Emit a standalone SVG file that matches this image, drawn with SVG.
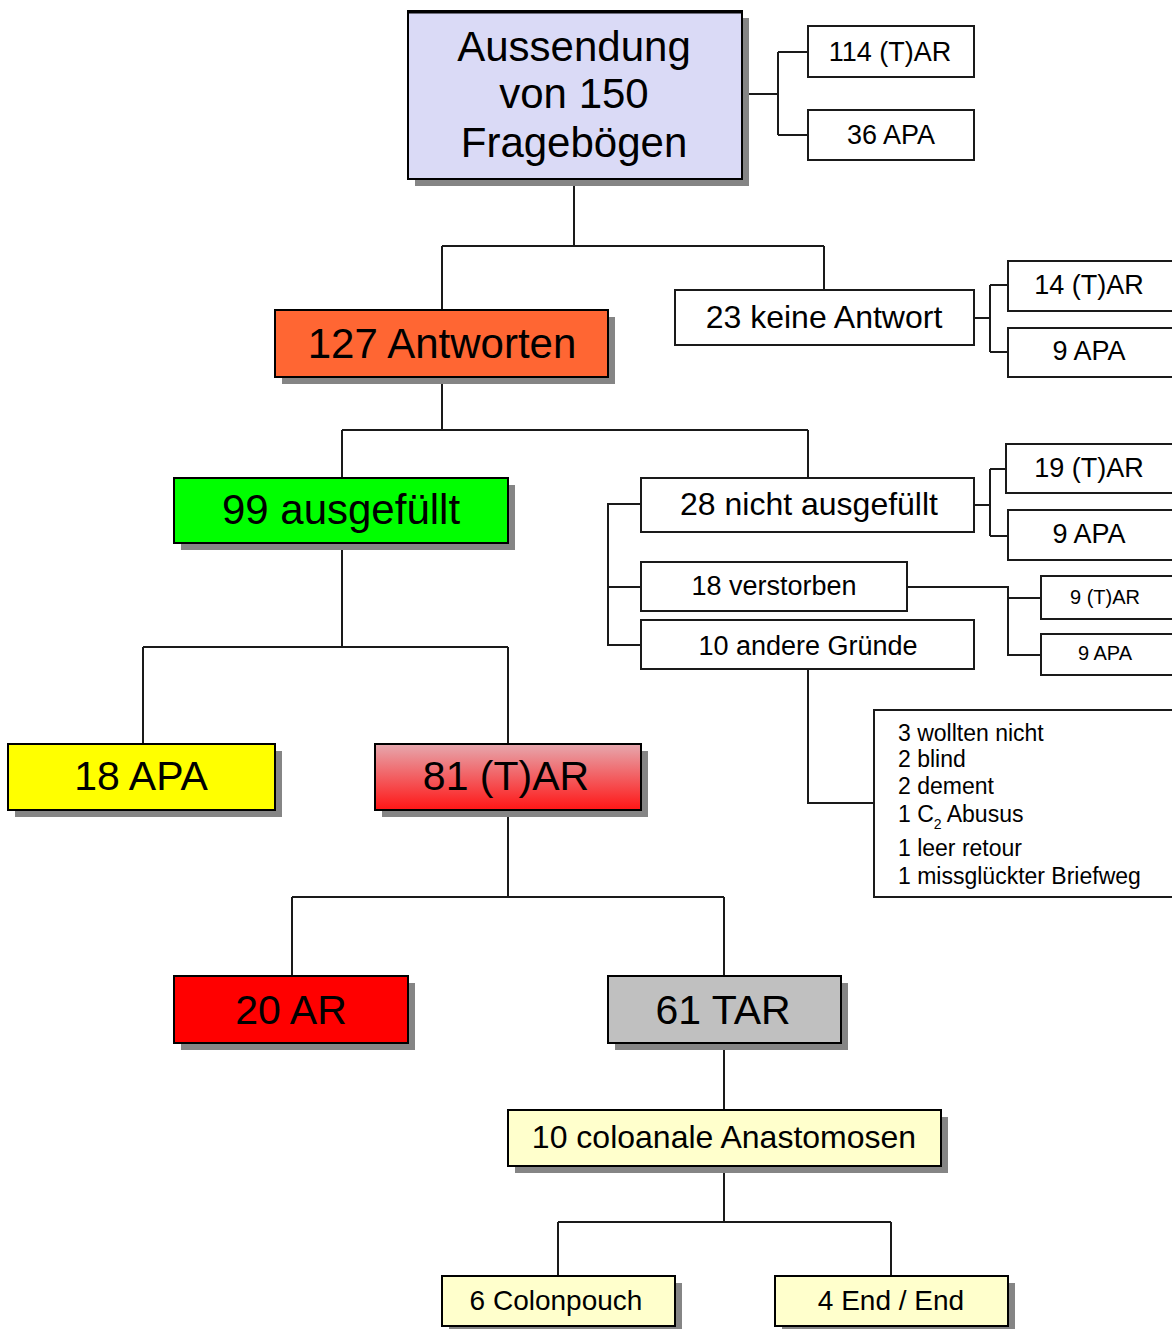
<svg xmlns="http://www.w3.org/2000/svg" width="1172" height="1329" viewBox="0 0 1172 1329">
<style>
text{font-family:"Liberation Sans",Arial,sans-serif;fill:#000;text-anchor:middle}
.box{stroke:#000;stroke-width:2}
.wb{fill:#fff;stroke:#1a1a1a;stroke-width:2}
.sh{fill:#858585}
.c{fill:none;stroke:#1a1a1a;stroke-width:2}
.f42{font-size:42px}.f40{font-size:41px}.f32{font-size:32px}.f27{font-size:27px}.f28{font-size:28px}.f20{font-size:20px}.f23{font-size:23px}
</style>
<defs>
<linearGradient id="g81" x1="0" y1="0" x2="0" y2="1">
<stop offset="0" stop-color="#e6a8ae"/>
<stop offset="1" stop-color="#ff1515"/>
</linearGradient>
</defs>
<rect width="1172" height="1329" fill="#fff"/>
<g id="connectors">
<path class="c" d="M742 94H778M778 52V135M778 52H808M778 135H808"/>
<path class="c" d="M574 179V246M442 246H824M442 246V310M824 246V290"/>
<path class="c" d="M974 318H990M990 285V352M990 285H1008M990 352H1008"/>
<path class="c" d="M442 377V430M342 430H808M342 430V478M808 430V478"/>
<path class="c" d="M974 505H990M990 469V536M990 469H1006M990 536H1008"/>
<path class="c" d="M641 504H608V645H641M608 587H641"/>
<path class="c" d="M907 587H1008V655H1041M1008 598H1041"/>
<path class="c" d="M808 669V803H874"/>
<path class="c" d="M342 543V647M143 647H508M143 647V744M508 647V744"/>
<path class="c" d="M508 810V897M292 897H724M292 897V976M724 897V976"/>
<path class="c" d="M724 1043V1110M724 1166V1222M558 1222H891M558 1222V1276M891 1222V1276"/>
</g>
<g id="n-aussendung">
<rect class="sh" x="415" y="18" width="334" height="168"/>
<rect class="box" x="408" y="11" width="334" height="168" fill="#dadaf6"/>
<path d="M408 12H742" stroke="#000" stroke-width="3"/>
<text class="f42" x="574" y="61">Aussendung</text>
<text class="f42" x="574" y="108">von 150</text>
<text class="f42" x="574" y="157">Fragebögen</text>
</g>
<g id="n-114"><rect class="wb" x="808" y="26" width="166" height="51"/><text class="f27" x="890" y="61">114 (T)AR</text></g>
<g id="n-36"><rect class="wb" x="808" y="110" width="166" height="50"/><text class="f27" x="891" y="144">36 APA</text></g>
<g id="n-127">
<rect class="sh" x="282" y="317" width="333" height="67"/>
<rect class="box" x="275" y="310" width="333" height="67" fill="#ff6633"/>
<text class="f42" x="442" y="358">127 Antworten</text>
</g>
<g id="n-23"><rect class="wb" x="675" y="290" width="299" height="55"/><text class="f32" x="824" y="328">23 keine Antwort</text></g>
<g id="n-14"><rect class="wb" x="1008" y="261" width="170" height="50"/><text class="f27" x="1089" y="294">14 (T)AR</text></g>
<g id="n-9a"><rect class="wb" x="1008" y="328" width="170" height="49"/><text class="f27" x="1089" y="360">9 APA</text></g>
<g id="n-99">
<rect class="sh" x="181" y="485" width="334" height="65"/>
<rect class="box" x="174" y="478" width="334" height="65" fill="#00ff00"/>
<text class="f42" x="341" y="524">99 ausgefüllt</text>
</g>
<g id="n-28"><rect class="wb" x="641" y="478" width="333" height="54"/><text class="f32" x="809" y="515">28 nicht ausgefüllt</text></g>
<g id="n-19"><rect class="wb" x="1006" y="444" width="172" height="49"/><text class="f27" x="1089" y="477">19 (T)AR</text></g>
<g id="n-9b"><rect class="wb" x="1008" y="510" width="170" height="50"/><text class="f27" x="1089" y="543">9 APA</text></g>
<g id="n-18v"><rect class="wb" x="641" y="562" width="266" height="49"/><text class="f27" x="774" y="595">18 verstorben</text></g>
<g id="n-10a"><rect class="wb" x="641" y="620" width="333" height="49"/><text class="f27" x="808" y="655">10 andere Gründe</text></g>
<g id="n-9c"><rect class="wb" x="1041" y="576" width="137" height="43"/><text class="f20" x="1105" y="604">9 (T)AR</text></g>
<g id="n-9d"><rect class="wb" x="1041" y="634" width="137" height="41"/><text class="f20" x="1105" y="660">9 APA</text></g>
<g id="n-gruende">
<rect class="wb" x="874" y="710" width="304" height="187"/>
<text class="f23" x="898" y="741" style="text-anchor:start">3 wollten nicht</text>
<text class="f23" x="898" y="767" style="text-anchor:start">2 blind</text>
<text class="f23" x="898" y="794" style="text-anchor:start">2 dement</text>
<text class="f23" x="898" y="822" style="text-anchor:start">1 C<tspan font-size="14px" dy="7">2</tspan><tspan dy="-7"> Abusus</tspan></text>
<text class="f23" x="898" y="856" style="text-anchor:start">1 leer retour</text>
<text class="f23" x="898" y="884" style="text-anchor:start">1 missglückter Briefweg</text>
</g>
<g id="n-18apa">
<rect class="sh" x="15" y="751" width="267" height="66"/>
<rect class="box" x="8" y="744" width="267" height="66" fill="#ffff00"/>
<text class="f40" x="141" y="790">18 APA</text>
</g>
<g id="n-81">
<rect class="sh" x="382" y="751" width="266" height="66"/>
<rect class="box" x="375" y="744" width="266" height="66" fill="url(#g81)"/>
<text class="f40" x="506" y="790">81 (T)AR</text>
</g>
<g id="n-20">
<rect class="sh" x="181" y="983" width="234" height="67"/>
<rect class="box" x="174" y="976" width="234" height="67" fill="#ff0000"/>
<text class="f40" x="291" y="1024">20 AR</text>
</g>
<g id="n-61">
<rect class="sh" x="615" y="983" width="233" height="67"/>
<rect class="box" x="608" y="976" width="233" height="67" fill="#c0c0c0"/>
<text class="f40" x="723" y="1024">61 TAR</text>
</g>
<g id="n-10c">
<rect class="sh" x="515" y="1117" width="433" height="56"/>
<rect class="box" x="508" y="1110" width="433" height="56" fill="#ffffcc"/>
<text class="f32" x="724" y="1148">10 coloanale Anastomosen</text>
</g>
<g id="n-6">
<rect class="sh" x="449" y="1283" width="233" height="50"/>
<rect class="box" x="442" y="1276" width="233" height="50" fill="#ffffcc"/>
<text class="f28" x="556" y="1310">6 Colonpouch</text>
</g>
<g id="n-4">
<rect class="sh" x="782" y="1283" width="233" height="50"/>
<rect class="box" x="775" y="1276" width="233" height="50" fill="#ffffcc"/>
<text class="f28" x="891" y="1310">4 End / End</text>
</g>
</svg>
